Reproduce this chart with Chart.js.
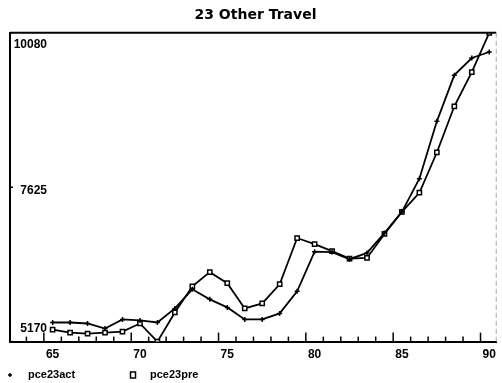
<!DOCTYPE html>
<html>
<head>
<meta charset="utf-8">
<script src="https://cdn.jsdelivr.net/npm/chart.js@4.4.1/dist/chart.umd.min.js"></script>
<style>
    html, body { margin: 0; padding: 0; background: #fff; }
    #wrap { width: 502px; height: 383px; }
</style>
</head>
<body>
<div id="wrap"><canvas id="chart" width="502" height="383"></canvas></div>
<script>
// years (19xx) and the two series
const years = [65, 66, 67, 68, 69, 70, 71, 72, 73, 74, 75, 76, 77, 78, 79, 80, 81, 82, 83, 84, 85, 86, 87, 88, 89, 90];
const pce23act = [5474, 5474, 5458, 5378, 5522, 5506, 5474, 5698, 6002, 5842, 5714, 5522, 5522, 5618, 5970, 6600, 6593, 6480, 6580, 6897, 7233, 7760, 8672, 9407, 9679, 9775];
const pce23pre = [5362, 5314, 5298, 5314, 5330, 5458, 5170, 5634, 6050, 6274, 6098, 5698, 5778, 6082, 6817, 6721, 6609, 6490, 6500, 6881, 7233, 7537, 8177, 8912, 9456, 10080];
const xTicks = [65, 70, 75, 80, 85, 90];
const yTicks = [5170, 7625, 10080];
const seriesNames = ['pce23act', 'pce23pre'];

const FONT = "'Liberation Sans', 'DejaVu Sans', sans-serif";

const options = {
    xMin: 62.56,
    xMax: 90.4,
    lineColor: '#000',
    axisWidth: 2,
};

const toPoints = (vals) => years.map((x, i) => ({ x, y: vals[i] }));

// inward tick marks, y labels inside the frame, top/right border, legend
const frame = {
    id: 'frame',
    afterDraw(chart) {
        const { ctx, chartArea: a, scales: { x, y } } = chart;
        ctx.save();
        ctx.strokeStyle = options.lineColor;

        // top border
        ctx.lineWidth = options.axisWidth;
        ctx.beginPath();
        ctx.moveTo(a.left, a.top);
        ctx.lineTo(a.right, a.top);
        ctx.stroke();

        // right border, faint and broken
        ctx.strokeStyle = '#aaa';
        ctx.lineWidth = 1;
        ctx.setLineDash([5, 3]);
        ctx.beginPath();
        ctx.moveTo(a.right, a.top);
        ctx.lineTo(a.right, a.bottom);
        ctx.stroke();
        ctx.setLineDash([]);

        // x ticks sit between the years
        ctx.strokeStyle = options.lineColor;
        ctx.lineWidth = 1.5;
        for (let k = Math.ceil(options.xMin + 0.5); k <= years[years.length - 1]; k++) {
            const px = x.getPixelForValue(k - 0.5);
            const len = k % 5 === 0 ? 9 : 5;
            ctx.beginPath();
            ctx.moveTo(px, a.bottom);
            ctx.lineTo(px, a.bottom - len);
            ctx.stroke();
        }

        // y ticks + labels inside the plot
        ctx.fillStyle = '#000';
        ctx.font = `bold 12px ${FONT}`;
        ctx.textAlign = 'right';
        yTicks.forEach((v, i) => {
            const py = y.getPixelForValue(v);
            ctx.beginPath();
            ctx.moveTo(a.left, py);
            ctx.lineTo(a.left + 3, py);
            ctx.stroke();
            let ty = py + 3;
            ctx.textBaseline = 'middle';
            if (i === 0) { ctx.textBaseline = 'bottom'; ty = py - 7; }
            if (i === yTicks.length - 1) { ctx.textBaseline = 'top'; ty = py + 6; }
            ctx.fillText(String(v), a.left + 37, ty);
        });

        // legend
        const ly = 375;
        ctx.textAlign = 'left';
        ctx.textBaseline = 'middle';
        ctx.font = `bold 11px ${FONT}`;
        ctx.lineWidth = 1.5;
        ctx.beginPath();
        ctx.moveTo(8, ly); ctx.lineTo(12, ly);
        ctx.moveTo(10, ly - 2); ctx.lineTo(10, ly + 2);
        ctx.stroke();
        ctx.fillText(seriesNames[0], 28, ly);
        ctx.fillStyle = '#fff';
        ctx.fillRect(130.5, ly - 3, 5, 6);
        ctx.strokeRect(130.5, ly - 3, 5, 6);
        ctx.fillStyle = '#000';
        ctx.fillText(seriesNames[1], 150, ly);
        ctx.restore();
    }
};

window.onload = function () {
    const chart = new Chart(document.getElementById('chart'), {
        type: 'line',
        data: {
            datasets: [
                {
                    label: seriesNames[0],
                    data: toPoints(pce23act),
                    borderColor: '#000',
                    borderWidth: 1.8,
                    pointStyle: 'cross',
                    pointRadius: 2.5,
                    pointBorderWidth: 1.5,
                    pointBorderColor: '#000',
                    tension: 0,
                },
                {
                    label: seriesNames[1],
                    data: toPoints(pce23pre),
                    borderColor: '#000',
                    borderWidth: 1.8,
                    pointStyle: 'rect',
                    pointRadius: 3,
                    pointBorderWidth: 1.5,
                    pointBorderColor: '#000',
                    pointBackgroundColor: '#fff',
                    tension: 0,
                },
            ],
        },
        options: {
            responsive: false,
            animation: false,
            layout: { padding: { left: 10, right: 1, top: 0, bottom: 15 } },
            plugins: {
                legend: { display: false },
                tooltip: { enabled: false },
                title: {
                    display: true,
                    text: '23 Other Travel',
                    color: '#000',
                    font: { family: "'DejaVu Sans', sans-serif", size: 14, weight: 'bold' },
                    padding: { top: 7, bottom: 9 },
                },
            },
            scales: {
                x: {
                    type: 'linear',
                    min: options.xMin,
                    max: options.xMax,
                    afterBuildTicks: (s) => { s.ticks = xTicks.map((v) => ({ value: v })); },
                    grid: { display: false, drawTicks: false },
                    border: { display: true, color: '#000', width: options.axisWidth },
                    ticks: {
                        color: '#000',
                        padding: 6,
                        maxRotation: 0,
                        font: { family: FONT, size: 12, weight: 'bold' },
                    },
                },
                y: {
                    min: 5170,
                    max: 10080,
                    grid: { display: false, drawTicks: false },
                    border: { display: true, color: '#000', width: options.axisWidth },
                    ticks: { display: false },
                },
            },
        },
        plugins: [frame],
    });
};
</script>
</body>
</html>
